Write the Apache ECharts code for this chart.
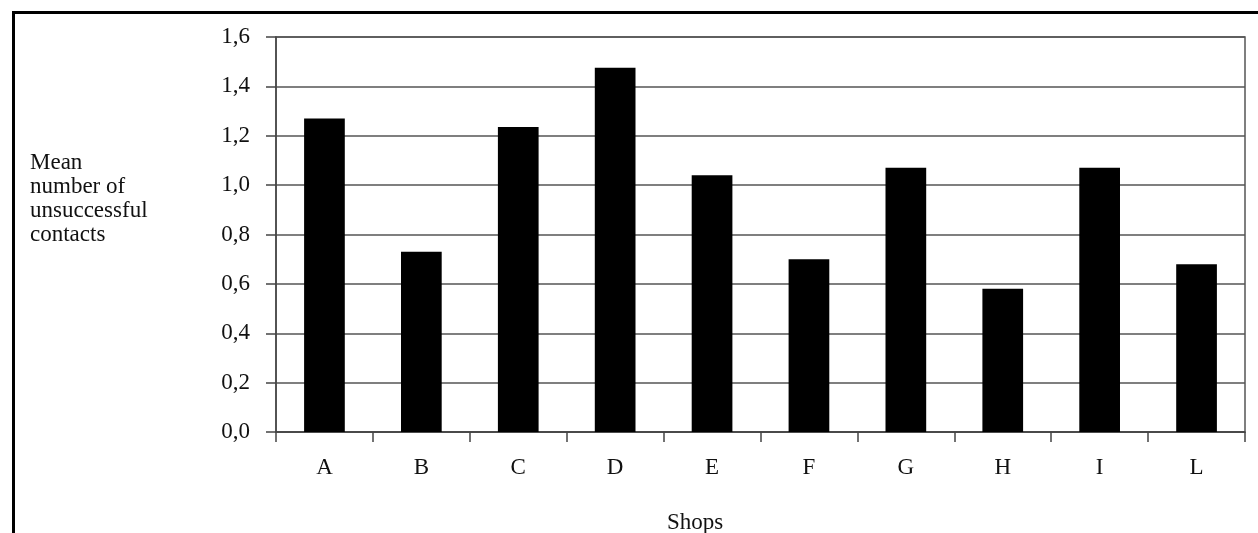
<!DOCTYPE html>
<html>
<head>
<meta charset="utf-8">
<style>html,body{margin:0;padding:0;background:#fff;}#c{width:1258px;height:533px;}</style>
<script src="https://cdn.jsdelivr.net/npm/echarts@6/dist/echarts.min.js"></script>
</head>
<body>
<div id="c"></div>
<script>
var categories = ['A','B','C','D','E','F','G','H','I','L'];
var values = [1.27, 0.73, 1.235, 1.475, 1.04, 0.70, 1.07, 0.58, 1.07, 0.68];
var yLabelLines = ['Mean', 'number of', 'unsuccessful', 'contacts'];
var xName = 'Shops';

var chart = echarts.init(document.getElementById('c'));
var font = 'Liberation Serif, Times New Roman, serif';
chart.setOption({
  animation: false,
  backgroundColor: '#fff',
  grid: {left: 276, right: 13, top: 37, bottom: 101, show: true, borderColor: '#555', borderWidth: 1.5, backgroundColor: 'transparent'},
  xAxis: {
    type: 'category', data: categories, boundaryGap: true,
    axisLine: {lineStyle: {color: '#444', width: 1.5}},
    axisTick: {show: true, length: 10, inside: false, alignWithLabel: false, lineStyle: {color: '#444', width: 1.5}},
    axisLabel: {color: '#111', fontFamily: font, fontSize: 23, margin: 24}
  },
  yAxis: {
    type: 'value', min: 0, max: 1.6, interval: 0.2,
    axisLine: {show: true, lineStyle: {color: '#444', width: 1.5}},
    axisTick: {show: true, length: 10, lineStyle: {color: '#444', width: 1.5}},
    splitLine: {show: true, lineStyle: {color: '#555', width: 1.5}},
    axisLabel: {color: '#111', fontFamily: font, fontSize: 23, margin: 26,
      formatter: function (v) { return v.toFixed(1).replace('.', ','); }}
  },
  series: [{
    type: 'bar', data: values, barWidth: '42%',
    itemStyle: {color: '#000'}
  }],
  graphic: [
    {type: 'line', shape: {x1: 13.5, y1: 12.5, x2: 1258, y2: 12.5}, style: {stroke: '#000', lineWidth: 3}},
    {type: 'line', shape: {x1: 13.5, y1: 11, x2: 13.5, y2: 533}, style: {stroke: '#000', lineWidth: 3}},
    {type: 'text', left: 30, top: 151, style: {text: yLabelLines.join('\n'), fontFamily: font, fontSize: 23, lineHeight: 24, fill: '#111'}},
    {type: 'text', left: 667, top: 511, style: {text: xName, fontFamily: font, fontSize: 23, fill: '#111'}}
  ]
});
</script>
</body>
</html>
